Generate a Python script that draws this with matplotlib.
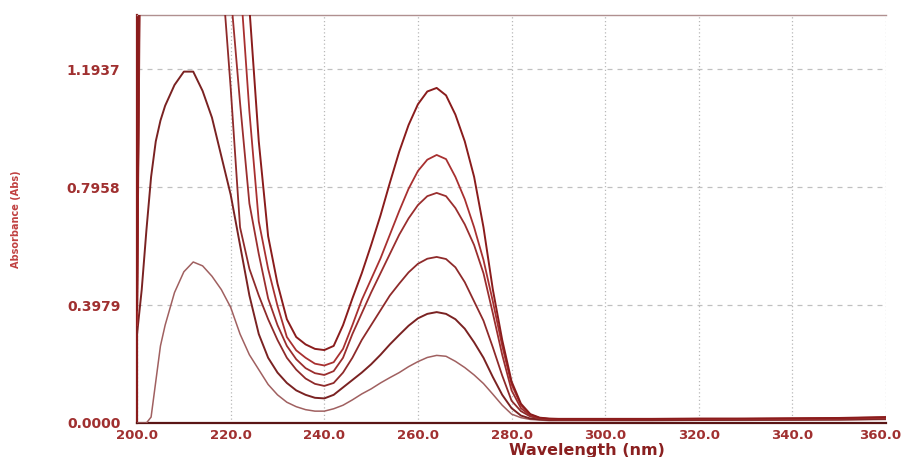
import matplotlib
matplotlib.use("Agg")
import matplotlib.pyplot as plt
import matplotlib.transforms as mtransforms

# Wavelength grid (nm)
wavelength = [200, 201, 202, 203, 204, 205, 206, 208, 210, 212, 214, 216, 218, 220,
              222, 224, 226, 228, 230, 232, 234, 236, 238, 240, 242, 244, 246, 248,
              250, 252, 254, 256, 258, 260, 262, 264, 266, 268, 270, 272, 274, 276,
              278, 280, 282, 284, 286, 288, 290, 295, 300, 310, 320, 330, 340, 350, 360]

# Absorbance of six solutions (lowest to highest concentration)
abs_1 = [0.0, 0.0, 0.0, 0.02, 0.14, 0.26, 0.33, 0.44, 0.51, 0.543, 0.53, 0.495, 0.45, 0.39,
         0.30, 0.23, 0.18, 0.13, 0.095, 0.07, 0.055, 0.045, 0.04, 0.04, 0.048, 0.06, 0.078, 0.098,
         0.115, 0.135, 0.153, 0.17, 0.19, 0.207, 0.221, 0.228, 0.225, 0.208, 0.187, 0.162, 0.133, 0.097,
         0.06, 0.03, 0.018, 0.012, 0.01, 0.008, 0.008, 0.008, 0.008, 0.008, 0.009, 0.009, 0.01, 0.01, 0.012]
abs_2 = [0.30, 0.45, 0.65, 0.83, 0.95, 1.02, 1.07, 1.14, 1.185, 1.185, 1.12, 1.03, 0.90, 0.77,
         0.60, 0.43, 0.30, 0.22, 0.17, 0.135, 0.11, 0.095, 0.085, 0.083, 0.095, 0.12, 0.145, 0.17,
         0.198, 0.23, 0.265, 0.297, 0.328, 0.353, 0.368, 0.374, 0.368, 0.35, 0.318, 0.272, 0.22, 0.155,
         0.095, 0.05, 0.025, 0.015, 0.012, 0.01, 0.01, 0.01, 0.01, 0.01, 0.01, 0.011, 0.011, 0.012, 0.014]
abs_3 = [0.35, 2.2, 2.4, 2.5, 2.6, 2.6, 2.6, 2.5, 2.4, 2.2, 2.0, 1.8, 1.55, 1.13,
         0.66, 0.52, 0.43, 0.35, 0.28, 0.22, 0.18, 0.15, 0.132, 0.125, 0.135, 0.17, 0.22, 0.28,
         0.33, 0.38, 0.43, 0.47, 0.508, 0.537, 0.554, 0.56, 0.553, 0.525, 0.475, 0.41, 0.345, 0.255,
         0.16, 0.075, 0.04, 0.022, 0.015, 0.012, 0.012, 0.012, 0.012, 0.012, 0.012, 0.013, 0.013, 0.014, 0.016]
abs_4 = [0.42, 2.4, 2.6, 2.7, 2.8, 2.8, 2.8, 2.7, 2.6, 2.5, 2.3, 2.1, 1.9, 1.45,
         1.08, 0.74, 0.57, 0.42, 0.33, 0.26, 0.215, 0.185, 0.168, 0.162, 0.175, 0.22, 0.30, 0.37,
         0.44, 0.505, 0.57, 0.635, 0.69, 0.735, 0.765, 0.776, 0.765, 0.725, 0.67, 0.60, 0.505, 0.37,
         0.23, 0.11, 0.05, 0.025, 0.016, 0.013, 0.012, 0.012, 0.013, 0.013, 0.013, 0.014, 0.014, 0.015, 0.018]
abs_5 = [0.33, 2.6, 2.8, 2.9, 3.0, 3.0, 3.0, 2.9, 2.8, 2.7, 2.6, 2.5, 2.3, 1.9,
         1.5, 1.05, 0.68, 0.52, 0.395, 0.29, 0.245, 0.22, 0.20, 0.194, 0.205, 0.25, 0.33, 0.415,
         0.485, 0.555, 0.635, 0.715, 0.79, 0.85, 0.888, 0.904, 0.89, 0.83, 0.755, 0.66, 0.55, 0.41,
         0.26, 0.13, 0.06, 0.028, 0.017, 0.014, 0.013, 0.013, 0.013, 0.013, 0.014, 0.014, 0.015, 0.016, 0.019]
abs_6 = [0.38, 2.8, 3.0, 3.1, 3.2, 3.2, 3.2, 3.1, 3.0, 2.9, 2.8, 2.7, 2.6, 2.2,
         1.8, 1.4, 0.95, 0.63, 0.47, 0.35, 0.29, 0.265, 0.25, 0.246, 0.26, 0.33, 0.42, 0.505,
         0.60, 0.70, 0.81, 0.915, 1.005, 1.075, 1.118, 1.13, 1.105, 1.04, 0.95, 0.83, 0.66, 0.45,
         0.28, 0.14, 0.065, 0.03, 0.018, 0.015, 0.014, 0.014, 0.014, 0.014, 0.015, 0.015, 0.016, 0.017, 0.02]

series = [abs_1, abs_2, abs_3, abs_4, abs_5, abs_6]
colors = ['#a06060', '#7a2222', '#8e2a2a', '#9a2e2e', '#a83030', '#8a1c1c']
widths = [1.1, 1.4, 1.3, 1.3, 1.3, 1.4]

x_ticks = [200, 220, 240, 260, 280, 300, 320, 340, 360]
x_tick_labels = ["200.0", "220.0", "240.0", "260.0", "280.0", "300.0", "320.0", "340.0", "360.0"]
y_ticks = [0.0, 0.3979, 0.7958, 1.1937]
y_tick_labels = ["0.0000", "0.3979", "0.7958", "1.1937"]

fig = plt.figure(figsize=(9.04, 4.57), dpi=100)
ax = fig.add_axes([0.1516, 0.0744, 0.8286, 0.8928])

for vals, c, lw in zip(series, colors, widths):
    ax.plot(wavelength, vals, color=c, lw=lw, zorder=3, solid_joinstyle='round')

ax.set_xlim(200, 360)
ax.set_ylim(0, 1.376)

ax.set_xticks(x_ticks)
ax.set_xticklabels(x_tick_labels)
ax.set_yticks(y_ticks)
ax.set_yticklabels(y_tick_labels)

for xv in x_ticks:
    ax.axvline(xv, color='#b8b8b8', lw=0.9, ls=(0, (1, 2)), zorder=1)
for yv in y_ticks[1:]:
    ax.axhline(yv, color='#c0c0c0', lw=0.9, ls=(0, (4, 4)), zorder=1)

ax.tick_params(axis='x', length=0, pad=4)
ax.tick_params(axis='y', length=0, pad=12)
for lab in ax.get_xticklabels():
    lab.set_fontsize(9.5)
    lab.set_fontweight('bold')
    lab.set_color('#a03030')
for lab in ax.get_yticklabels():
    lab.set_fontsize(10)
    lab.set_fontweight('bold')
    lab.set_color('#a03030')

# keep the last x tick label inside the figure
last = ax.get_xticklabels()[-1]
last.set_transform(last.get_transform() +
                   mtransforms.ScaledTranslation(-6 / 100, 0, fig.dpi_scale_trans))

ax.spines['left'].set_color('#8a1c1c')
ax.spines['left'].set_linewidth(1.6)
ax.spines['bottom'].set_color('#5a1515')
ax.spines['bottom'].set_linewidth(1.6)
ax.spines['top'].set_color('#b09090')
ax.spines['top'].set_linewidth(1.0)
ax.spines['right'].set_visible(False)

ax.set_xlabel("Wavelength (nm)", fontsize=11.5, fontweight='bold', color='#8a2020')
ax.xaxis.set_label_coords(0.6, -0.05)
ax.set_ylabel("Absorbance (Abs)", fontsize=7, color='#c04040', fontweight='bold')
ax.yaxis.set_label_coords(-0.155, 0.5)

fig.savefig("out.png", dpi=100)
